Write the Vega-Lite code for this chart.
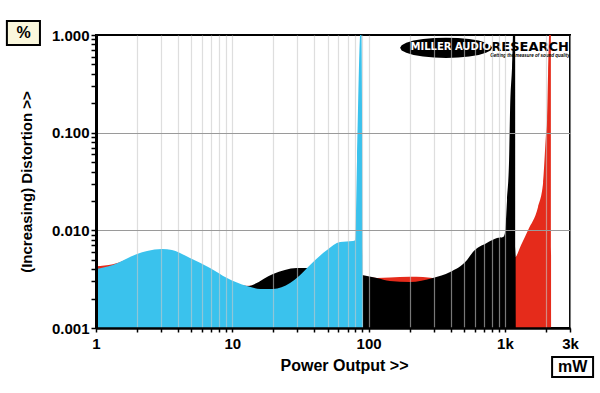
{
  "$schema": "https://vega.github.io/schema/vega-lite/v6.json",
  "width": 474,
  "height": 293,
  "autosize": {"type": "none"},
  "padding": {"left": 96, "top": 35, "right": 30, "bottom": 65},
  "background": "white",
  "config": {
    "view": {"stroke": "black", "strokeWidth": 2},
    "font": "Liberation Sans"
  },
  "datasets": {
    "curves": [
      {"s": "red", "x": 1, "y": 0.0043}, {"s": "red", "x": 1.33, "y": 0.0045}, {"s": "red", "x": 2, "y": 0.0055},
      {"s": "red", "x": 3, "y": 0.006}, {"s": "red", "x": 5, "y": 0.005}, {"s": "red", "x": 8, "y": 0.0035},
      {"s": "red", "x": 12, "y": 0.0027}, {"s": "red", "x": 20, "y": 0.0028}, {"s": "red", "x": 30, "y": 0.0032},
      {"s": "red", "x": 50, "y": 0.0034}, {"s": "red", "x": 80, "y": 0.0033}, {"s": "red", "x": 100, "y": 0.0033},
      {"s": "red", "x": 115, "y": 0.00325}, {"s": "red", "x": 143, "y": 0.00329}, {"s": "red", "x": 200, "y": 0.00335},
      {"s": "red", "x": 250, "y": 0.00332}, {"s": "red", "x": 296, "y": 0.00325}, {"s": "red", "x": 400, "y": 0.0035},
      {"s": "red", "x": 600, "y": 0.0048}, {"s": "red", "x": 900, "y": 0.0055}, {"s": "red", "x": 1186, "y": 0.00533},
      {"s": "red", "x": 1313, "y": 0.00708}, {"s": "red", "x": 1476, "y": 0.01}, {"s": "red", "x": 1748, "y": 0.0173},
      {"s": "red", "x": 1904, "y": 0.0305}, {"s": "red", "x": 2004, "y": 0.1}, {"s": "red", "x": 2036, "y": 0.135},
      {"s": "red", "x": 2071, "y": 0.4}, {"s": "red", "x": 2107, "y": 1.0}, {"s": "red", "x": 2125, "y": 1.3},
      {"s": "red", "x": 2170, "y": 1.3}, {"s": "red", "x": 2180, "y": 0.001},

      {"s": "black", "x": 1, "y": 0.0037}, {"s": "black", "x": 2, "y": 0.0052}, {"s": "black", "x": 3, "y": 0.0058},
      {"s": "black", "x": 5, "y": 0.0048}, {"s": "black", "x": 8, "y": 0.0034}, {"s": "black", "x": 12.8, "y": 0.00269},
      {"s": "black", "x": 19.9, "y": 0.00357}, {"s": "black", "x": 29.7, "y": 0.00411}, {"s": "black", "x": 35.3, "y": 0.00411},
      {"s": "black", "x": 44, "y": 0.004}, {"s": "black", "x": 60, "y": 0.0037}, {"s": "black", "x": 80, "y": 0.0036},
      {"s": "black", "x": 89.5, "y": 0.00349}, {"s": "black", "x": 115, "y": 0.00325}, {"s": "black", "x": 143, "y": 0.00303},
      {"s": "black", "x": 201, "y": 0.00296}, {"s": "black", "x": 296, "y": 0.00325}, {"s": "black", "x": 396, "y": 0.00374},
      {"s": "black", "x": 527, "y": 0.00497}, {"s": "black", "x": 582, "y": 0.006}, {"s": "black", "x": 735, "y": 0.00742},
      {"s": "black", "x": 874, "y": 0.00834}, {"s": "black", "x": 969, "y": 0.00855}, {"s": "black", "x": 1000, "y": 0.0094},
      {"s": "black", "x": 1036, "y": 0.0205}, {"s": "black", "x": 1072, "y": 0.0525}, {"s": "black", "x": 1090, "y": 0.171},
      {"s": "black", "x": 1127, "y": 0.47}, {"s": "black", "x": 1156, "y": 1.3}, {"s": "black", "x": 1186, "y": 1.3},
      {"s": "black", "x": 1200, "y": 0.001},

      {"s": "cyan", "x": 1, "y": 0.00402}, {"s": "cyan", "x": 1.33, "y": 0.00442}, {"s": "cyan", "x": 2.0, "y": 0.00572},
      {"s": "cyan", "x": 2.37, "y": 0.00614}, {"s": "cyan", "x": 3.05, "y": 0.00644}, {"s": "cyan", "x": 3.61, "y": 0.00629},
      {"s": "cyan", "x": 4.89, "y": 0.00521}, {"s": "cyan", "x": 6.86, "y": 0.00411}, {"s": "cyan", "x": 9.14, "y": 0.00325},
      {"s": "cyan", "x": 12.8, "y": 0.00269}, {"s": "cyan", "x": 16.0, "y": 0.00251}, {"s": "cyan", "x": 19.9, "y": 0.00251},
      {"s": "cyan", "x": 26.5, "y": 0.00289}, {"s": "cyan", "x": 30.3, "y": 0.00333}, {"s": "cyan", "x": 37.2, "y": 0.00442},
      {"s": "cyan", "x": 49.5, "y": 0.00629}, {"s": "cyan", "x": 61.7, "y": 0.00759}, {"s": "cyan", "x": 76.8, "y": 0.00778},
      {"s": "cyan", "x": 79.5, "y": 0.0079}, {"s": "cyan", "x": 82.2, "y": 0.0525}, {"s": "cyan", "x": 86.5, "y": 1.0},
      {"s": "cyan", "x": 88.3, "y": 1.3}, {"s": "cyan", "x": 90.9, "y": 0.001}
    ],
    "logo": [
      {"x": 400, "y": 0.745, "t": "MILLER AUDIO"}
    ],
    "logo2": [
      {"x": 1528, "y": 0.755, "t": "RESEARCH"}
    ],
    "logo3": [
      {"x": 1528, "y": 0.612, "t": "Getting the measure of sound quality"}
    ],
    "ellipse": [
      {"x": 370, "y": 0.74}
    ],
    "boxes": [
      {"t": "%", "x1": 0.222, "x2": 0.388, "y1": 0.79, "y2": 1.39, "tx": 0.294, "ty": 1.047, "f": "#faf7dc"},
      {"t": "mW", "x1": 2217, "x2": 4430, "y1": 0.000315, "y2": 0.000505, "tx": 3133, "ty": 0.000399, "f": "#ffffff"}
    ]
  },
  "layer": [
    {
      "mark": {"type": "rect", "color": {"gradient": "linear", "x1": 0, "y1": 0, "x2": 1, "y2": 1, "stops": [{"offset": 0, "color": "#faf6d6"}, {"offset": 1, "color": "#fffffc"}]}},
      "encoding": {
        "x": {"datum": 1, "type": "quantitative", "scale": {"type": "log", "domain": [1, 3000], "nice": false, "zero": false},
          "axis": {
            "values": [1,2,3,4,5,6,7,8,9,10,20,30,40,50,60,70,80,90,100,200,300,400,500,600,700,800,900,1000,2000,3000],
            "labelExpr": "datum.value == 1 ? '1' : datum.value == 10 ? '10' : datum.value == 100 ? '100' : datum.value == 1000 ? '1k' : datum.value == 3000 ? '3k' : ''",
            "labelOverlap": false, "labelBound": false, "labelFlush": false,
            "labelFont": "Liberation Sans", "labelFontSize": 15, "labelFontWeight": "bold", "labelColor": "black", "labelPadding": 4,
            "grid": true, "gridColor": "#c8c8c8", "gridOpacity": 0.6, "gridWidth": 1.2,
            "tickSize": 4, "tickColor": "black", "tickWidth": 1.5,
            "domain": true, "domainColor": "black", "domainWidth": 2.5,
            "title": "Power Output >>", "titleFont": "Liberation Sans", "titleFontSize": 16, "titleFontWeight": "bold", "titleColor": "black", "titlePadding": 6, "titleX": 248,
            "zindex": 1
          }},
        "x2": {"datum": 3000},
        "y": {"datum": 0.001, "type": "quantitative", "scale": {"type": "log", "domain": [0.001, 1], "nice": false, "zero": false},
          "axis": {
            "values": [0.001,0.002,0.003,0.004,0.005,0.006,0.007,0.008,0.009,0.01,0.02,0.03,0.04,0.05,0.06,0.07,0.08,0.09,0.1,0.2,0.3,0.4,0.5,0.6,0.7,0.8,0.9,1],
            "labelExpr": "datum.value == 1 ? '1.000' : datum.value == 0.1 ? '0.100' : datum.value == 0.01 ? '0.010' : datum.value == 0.001 ? '0.001' : ''",
            "labelOverlap": false, "labelBound": false, "labelFlush": false,
            "labelFont": "Liberation Sans", "labelFontSize": 15, "labelFontWeight": "bold", "labelColor": "black", "labelPadding": 2,
            "grid": true, "gridColor": "#9a9a9a",
            "gridOpacity": {"condition": {"test": "datum.value == 0.1 || datum.value == 0.01", "value": 1}, "value": 0},
            "tickSize": 5, "tickColor": "black", "tickWidth": 1.5,
            "domain": true, "domainColor": "black", "domainWidth": 3,
            "title": "(Increasing) Distortion >>", "titleFont": "Liberation Sans", "titleFontSize": 15, "titleFontWeight": "bold", "titleColor": "black", "titlePadding": 17,
            "zindex": 1
          }},
        "y2": {"datum": 1}
      }
    },
    {
      "data": {"name": "curves"},
      "transform": [{"filter": "datum.s == 'red'"}],
      "mark": {"type": "area", "clip": true, "color": "#e52b1b", "interpolate": "monotone"},
      "encoding": {
        "x": {"field": "x", "type": "quantitative"},
        "y": {"field": "y", "type": "quantitative"},
        "y2": {"datum": 0.001}
      }
    },
    {
      "data": {"name": "curves"},
      "transform": [{"filter": "datum.s == 'black'"}],
      "mark": {"type": "area", "clip": true, "color": "#000000", "interpolate": "monotone"},
      "encoding": {
        "x": {"field": "x", "type": "quantitative"},
        "y": {"field": "y", "type": "quantitative"},
        "y2": {"datum": 0.001}
      }
    },
    {
      "data": {"name": "curves"},
      "transform": [{"filter": "datum.s == 'cyan'"}],
      "mark": {"type": "area", "clip": true, "color": "#3ac2ed", "interpolate": "monotone"},
      "encoding": {
        "x": {"field": "x", "type": "quantitative"},
        "y": {"field": "y", "type": "quantitative"},
        "y2": {"datum": 0.001}
      }
    },
    {
      "data": {"name": "ellipse"},
      "mark": {"type": "point", "filled": true, "opacity": 1, "color": "black", "strokeWidth": 0,
        "shape": "M1,0L0.966,0.057L0.866,0.11L0.707,0.156L0.5,0.19L0.259,0.213L0,0.22L-0.259,0.213L-0.5,0.19L-0.707,0.156L-0.866,0.11L-0.966,0.057L-1,0L-0.966,-0.057L-0.866,-0.11L-0.707,-0.156L-0.5,-0.19L-0.259,-0.213L0,-0.22L0.259,-0.213L0.5,-0.19L0.707,-0.156L0.866,-0.11L0.966,-0.057Z",
        "size": 8464},
      "encoding": {
        "x": {"field": "x", "type": "quantitative"},
        "y": {"field": "y", "type": "quantitative"}
      }
    },
    {
      "data": {"name": "logo"},
      "mark": {"type": "text", "color": "white", "font": "DejaVu Sans", "fontWeight": "bold", "fontSize": 10, "align": "center", "baseline": "middle"},
      "encoding": {
        "x": {"field": "x", "type": "quantitative"},
        "y": {"field": "y", "type": "quantitative"},
        "text": {"field": "t"}
      }
    },
    {
      "data": {"name": "logo2"},
      "mark": {"type": "text", "color": "black", "font": "DejaVu Sans", "fontWeight": "bold", "fontSize": 13, "align": "center", "baseline": "middle"},
      "encoding": {
        "x": {"field": "x", "type": "quantitative"},
        "y": {"field": "y", "type": "quantitative"},
        "text": {"field": "t"}
      }
    },
    {
      "data": {"name": "logo3"},
      "mark": {"type": "text", "color": "black", "font": "Liberation Sans", "fontWeight": "bold", "fontStyle": "italic", "fontSize": 4.5, "align": "center", "baseline": "middle"},
      "encoding": {
        "x": {"field": "x", "type": "quantitative"},
        "y": {"field": "y", "type": "quantitative"},
        "text": {"field": "t"}
      }
    },
    {
      "data": {"name": "boxes"},
      "mark": {"type": "rect", "stroke": "black", "strokeWidth": 2},
      "encoding": {
        "x": {"field": "x1", "type": "quantitative"},
        "x2": {"field": "x2"},
        "y": {"field": "y1", "type": "quantitative"},
        "y2": {"field": "y2"},
        "fill": {"field": "f", "type": "nominal", "scale": null}
      }
    },
    {
      "data": {"name": "boxes"},
      "mark": {"type": "text", "color": "black", "font": "Liberation Sans", "fontWeight": "bold", "fontSize": 16, "align": "center", "baseline": "middle"},
      "encoding": {
        "x": {"field": "tx", "type": "quantitative"},
        "y": {"field": "ty", "type": "quantitative"},
        "text": {"field": "t"}
      }
    }
  ]
}
